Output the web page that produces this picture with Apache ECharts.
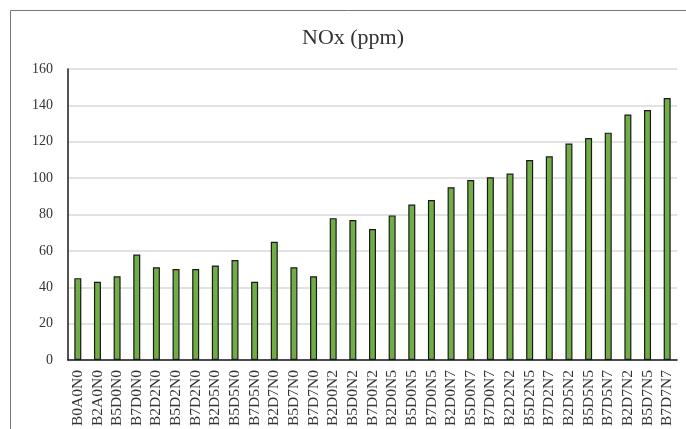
<!DOCTYPE html>
<html>
<head>
<meta charset="utf-8">
<script src="https://cdn.jsdelivr.net/npm/echarts@6/dist/echarts.min.js"></script>
<style>html,body{margin:0;padding:0;background:#fff}#c{width:686px;height:429px}</style>
</head>
<body>
<div id="c"></div>
<script>
const categories = ["B0A0N0","B2A0N0","B5D0N0","B7D0N0","B2D2N0","B5D2N0","B7D2N0","B2D5N0","B5D5N0","B7D5N0","B2D7N0","B5D7N0","B7D7N0","B2D0N2","B5D0N2","B7D0N2","B2D0N5","B5D0N5","B7D0N5","B2D0N7","B5D0N7","B7D0N7","B2D2N2","B5D2N5","B7D2N7","B2D5N2","B5D5N5","B7D5N7","B2D7N2","B5D7N5","B7D7N7"];
const noxValues = [45,43,46,58,51,50,50,52,55,43,65,51,46,78,77,72,79.5,85.5,88,95,99,100.5,102.5,110,112,119,122,125,135,137.5,144];
const yTicks = {min:0, max:160, interval:20};
const titleText = "NOx (ppm)";

const chart = echarts.init(document.getElementById('c'), null, {renderer:'canvas'});
const serif = '"Liberation Serif", "Times New Roman", serif';
chart.setOption({
  animation:false,
  backgroundColor:'#fff',
  graphic:[{type:'rect', shape:{x:10.5,y:10.5,width:700,height:450}, style:{fill:'none', stroke:'#777', lineWidth:1}, silent:true, z:-1}],
  title:{text:titleText, left:302, top:27, padding:0,
    textStyle:{fontFamily:serif, fontSize:22, fontWeight:'normal', color:'#333'}},
  grid:{left:68, right:9, top:69, bottom:68, containLabel:false},
  xAxis:{type:'category', data:categories,
    axisLine:{lineStyle:{color:'#1a1a1a', width:1.5}},
    axisTick:{show:false},
    splitLine:{show:false},
    axisLabel:{rotate:90, interval:0, margin:10, fontFamily:serif, fontSize:15.5, color:'#333'}},
  yAxis:{type:'value', min:yTicks.min, max:yTicks.max, interval:yTicks.interval,
    axisLine:{show:true, lineStyle:{color:'#1a1a1a', width:1.5}},
    axisTick:{show:false},
    splitLine:{show:true, lineStyle:{color:'#d9d9d9', width:1.5, type:'solid'}},
    axisLabel:{margin:15, fontFamily:serif, fontSize:14, color:'#333'}},
  series:[{type:'bar', data:noxValues, barWidth:7,
    itemStyle:{color:'#70ad47', borderColor:'#1a1a1a', borderWidth:1.2}}]
});
</script>
</body>
</html>
